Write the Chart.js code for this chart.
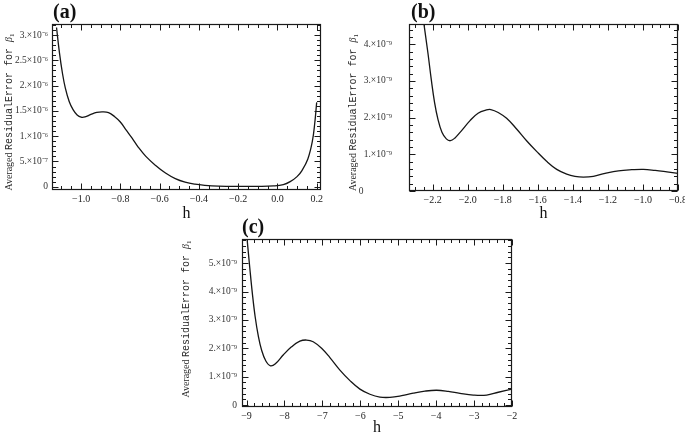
<!DOCTYPE html>
<html>
<head>
<meta charset="utf-8">
<script src="https://cdn.jsdelivr.net/npm/chart.js@4.4.0/dist/chart.umd.min.js"></script>
<style>
html,body{margin:0;padding:0;background:#fff;}
#wrap{position:relative;width:685px;height:441px;overflow:hidden;background:#fff;}
#wrap canvas{position:absolute;left:0;top:0;}
.pl{position:absolute;font:bold 20px "Liberation Serif",serif;line-height:20px;color:#111;white-space:nowrap;}
</style>
</head>
<body>
<div id="wrap">
  <canvas id="ca" width="685" height="441"></canvas>
  <canvas id="cb" width="685" height="441"></canvas>
  <canvas id="cc" width="685" height="441"></canvas>
  <div class="pl" id="la" style="left:53px;top:1px"></div>
  <div class="pl" id="lb" style="left:411px;top:1px"></div>
  <div class="pl" id="lc" style="left:242px;top:216px"></div>
</div>
<script>
// ---------- data ----------
const panelLabels = ['(a)', '(b)', '(c)'];
const xTitle = 'h';

// (a) h values and averaged residual error (units of 10^-6)
const hA = [-1.125,-1.11,-1.095,-1.08,-1.06,-1.04,-1.02,-1.0,-0.98,-0.95,-0.92,-0.89,-0.86,-0.83,-0.8,-0.77,-0.74,-0.71,-0.67,-0.62,-0.57,-0.52,-0.47,-0.42,-0.37,-0.3,-0.2,-0.1,-0.02,0.03,0.065,0.1,0.125,0.155,0.178,0.19,0.2];
const errA = [3.15,2.65,2.25,1.95,1.68,1.52,1.42,1.375,1.38,1.43,1.47,1.48,1.465,1.39,1.28,1.12,0.96,0.79,0.60,0.42,0.27,0.16,0.09,0.05,0.028,0.012,0.006,0.007,0.015,0.04,0.10,0.20,0.32,0.55,0.90,1.25,1.67];
const unitA = 1e-6;
const xTicksA = [-1.0,-0.8,-0.6,-0.4,-0.2,0.0,0.2];
const yTicksA = [0,0.5e-6,1e-6,1.5e-6,2e-6,2.5e-6,3e-6];

// (b) h values and averaged residual error (units of 10^-9)
const hB = [-2.26,-2.227,-2.208,-2.189,-2.17,-2.147,-2.122,-2.099,-2.074,-2.036,-1.988,-1.941,-1.893,-1.868,-1.826,-1.778,-1.721,-1.664,-1.607,-1.55,-1.492,-1.435,-1.388,-1.34,-1.283,-1.216,-1.14,-1.063,-0.997,-0.93,-0.863,-0.8];
const errB = [4.9,3.76,3.04,2.41,1.96,1.6,1.42,1.37,1.44,1.64,1.91,2.12,2.21,2.22,2.14,1.98,1.69,1.37,1.08,0.81,0.59,0.46,0.4,0.38,0.4,0.48,0.55,0.58,0.59,0.56,0.52,0.48];
const unitB = 1e-9;
const xTicksB = [-2.2,-2.0,-1.8,-1.6,-1.4,-1.2,-1.0,-0.8];
const yTicksB = [0,1e-9,2e-9,3e-9,4e-9];

// (c) h values and averaged residual error (units of 10^-9)
const hC = [-9.0,-8.913,-8.842,-8.773,-8.694,-8.604,-8.491,-8.367,-8.227,-8.034,-7.814,-7.594,-7.417,-7.243,-7.021,-6.802,-6.538,-6.274,-6.01,-5.747,-5.483,-5.219,-4.91,-4.604,-4.296,-3.987,-3.681,-3.372,-3.021,-2.668,-2.361,-2.0];
const errC = [6.05,4.81,3.87,3.11,2.46,1.94,1.55,1.38,1.47,1.76,2.05,2.25,2.29,2.23,2.0,1.67,1.23,0.86,0.56,0.38,0.28,0.27,0.33,0.42,0.49,0.52,0.48,0.41,0.35,0.35,0.45,0.56];
const unitC = 1e-9;
const xTicksC = [-9,-8,-7,-6,-5,-4,-3,-2];
const yTicksC = [0,1e-9,2e-9,3e-9,4e-9,5e-9];

// ---------- helpers ----------
const SUP = {'-':'\u207B','0':'\u2070','1':'\u00B9','2':'\u00B2','3':'\u00B3','4':'\u2074','5':'\u2075','6':'\u2076','7':'\u2077','8':'\u2078','9':'\u2079'};
function sci(v){
  if (Math.abs(v) < 1e-20) return '0';
  const e = Math.floor(Math.log10(Math.abs(v)) + 1e-9);
  const m = Math.round(v / Math.pow(10, e) * 100) / 100;
  const ms = Number.isInteger(m) ? m + '.' : String(m);
  return ms + '\u00D710' + String(e).split('').map(c => SUP[c]).join('');
}
function xfmt(dec){
  return v => {
    const s = Math.abs(v) < 1e-12 ? (0).toFixed(dec) : Math.abs(v).toFixed(dec);
    return (v < -1e-12 ? '\u2212' : '') + s;
  };
}

const SERIF = '"Liberation Serif", "Times New Roman", serif';
const MONO = '"Liberation Mono", "Courier New", monospace';

const frameTicks = {
  id: 'frameTicks',
  afterDatasetsDraw(chart, args, opts) {
    const {ctx, chartArea: a} = chart;
    const xs = chart.scales.x, ys = chart.scales.y;
    ctx.save();
    ctx.strokeStyle = opts.color;
    ctx.lineWidth = 1;
    function vals(scale, sub) {
      const t = scale.ticks.map(k => k.value);
      const step = (t[1] - t[0]) / sub;
      const eps = Math.abs(step) * 1e-6;
      const out = [];
      const start = Math.ceil((scale.min - t[0]) / step - 1e-6);
      for (let i = start; t[0] + i * step <= scale.max + eps; i++) {
        out.push({v: t[0] + i * step, major: ((i % sub) + sub) % sub === 0});
      }
      return out;
    }
    const L0 = Math.round(a.left) + 0.5, R0 = Math.round(a.right) - 0.5;
    const T0 = Math.round(a.top) + 0.5, B0 = Math.round(a.bottom) - 0.5;
    ctx.beginPath();
    vals(xs, opts.subX).forEach(o => {
      const p = Math.round(xs.getPixelForValue(o.v)) + 0.5;
      const L = o.major ? opts.major : opts.minor;
      ctx.moveTo(p, B0); ctx.lineTo(p, B0 - L);
      ctx.moveTo(p, T0); ctx.lineTo(p, T0 + L);
    });
    vals(ys, opts.subY).forEach(o => {
      const p = Math.round(ys.getPixelForValue(o.v)) + 0.5;
      const L = o.major ? opts.major : opts.minor;
      ctx.moveTo(L0, p); ctx.lineTo(L0 + L, p);
      ctx.moveTo(R0, p); ctx.lineTo(R0 - L, p);
    });
    ctx.stroke();
    ctx.lineWidth = 1.2;
    ctx.strokeRect(L0, T0, R0 - L0, B0 - T0);
    ctx.restore();
  }
};

const yTitlePlugin = {
  id: 'yTitleMixed',
  afterDraw(chart, args, o) {
    const ctx = chart.ctx;
    const segs = [
      {text: 'Averaged ', font: o.size + 'px ' + SERIF, dy: 0},
      {text: 'ResidualError for ', font: o.size + 'px ' + MONO, dy: 0},
      {text: '\u03B2', font: 'italic ' + o.size + 'px ' + SERIF, dy: 0},
      {text: '1', font: Math.round(o.size * 0.7) + 'px ' + SERIF, dy: 2}
    ];
    ctx.save();
    let total = 0;
    const w = segs.map(s => { ctx.font = s.font; const m = ctx.measureText(s.text).width; total += m; return m; });
    const a = chart.chartArea;
    ctx.translate(o.cx, (a.top + a.bottom) / 2 + o.dy);
    ctx.rotate(-Math.PI / 2);
    ctx.fillStyle = o.color;
    ctx.textBaseline = 'alphabetic';
    ctx.textAlign = 'left';
    let x = -total / 2;
    segs.forEach((s, i) => {
      ctx.font = s.font;
      ctx.fillText(s.text, x, o.size * 0.35 + s.dy);
      x += w[i];
    });
    ctx.restore();
  }
};

function makeChart(id, p) {
  const pts = p.h.map((h, i) => ({x: h, y: p.err[i] * p.unit}));
  return new Chart(document.getElementById(id), {
    type: 'line',
    data: { datasets: [{ data: pts, borderColor: '#151515', borderWidth: 1.3, pointRadius: 0,
                          fill: false, tension: 0.4 }] },
    options: {
      responsive: false, animation: false, devicePixelRatio: 1,
      events: [],
      layout: { padding: p.pad },
      plugins: {
        legend: {display: false}, tooltip: {enabled: false}, title: {display: false},
        frameTicks: {color: '#1a1a1a', major: 6, minor: 3.5, subX: p.subX, subY: p.subY},
        yTitleMixed: {cx: p.titleX, dy: p.titleDy, size: 10, color: '#2a2a2a'}
      },
      scales: {
        x: {
          type: 'linear', min: p.xr[0], max: p.xr[1],
          afterBuildTicks: s => { s.ticks = p.xt.map(v => ({value: v})); },
          afterFit: s => { s.height = p.hx; s.paddingLeft = 0; s.paddingRight = 0; },
          grid: {display: false, drawTicks: false}, border: {display: false},
          ticks: {padding: 3, autoSkip: false, maxRotation: 0, color: '#222',
                  font: {family: SERIF, size: 10}, callback: xfmt(p.xdec)},
          title: {display: true, text: xTitle, color: '#111', padding: 0,
                  font: {family: SERIF, size: 16}}
        },
        y: {
          type: 'linear', min: p.yr[0], max: p.yr[1],
          afterBuildTicks: s => { s.ticks = p.yt.map(v => ({value: v})); },
          afterFit: s => { s.width = p.wy; s.paddingTop = 0; s.paddingBottom = 0; },
          grid: {display: false, drawTicks: false}, border: {display: false},
          ticks: {padding: p.ypad, autoSkip: false, color: '#333',
                  font: {family: SERIF, size: 9.5}, callback: p.yfmt || sci}
        }
      }
    },
    plugins: [frameTicks, yTitlePlugin]
  });
}

// layout: frame boxes in page pixels
makeChart('ca', {
  h: hA, err: errA, unit: unitA, xt: xTicksA, yt: yTicksA, xdec: 1,
  xr: [-1.148, 0.222], yr: [-0.065e-6, 3.22e-6], subX: 4, subY: 5,
  wy: 45, hx: 33.6, ypad: 4,
  pad: {left: 7, top: 24, right: 685 - 321, bottom: 441 - 190 - 33.6},
  titleX: 8, titleDy: 5
});
makeChart('cb', {
  h: hB, err: errB, unit: unitB, xt: xTicksB, yt: yTicksB, xdec: 1,
  xr: [-2.335, -0.8], yr: [0, 4.55e-9], subX: 4, subY: 5,
  wy: 60, hx: 32.6, ypad: 17,
  pad: {left: 409 - 60, top: 24, right: 685 - 678, bottom: 441 - 191 - 32.6},
  titleX: 352.5, titleDy: 5,
  yfmt: v => Math.abs(v) < 1e-20 ? '0\u2003\u2003\u2003' : sci(v)
});
makeChart('cc', {
  h: hC, err: errC, unit: unitC, xt: xTicksC, yt: yTicksC, xdec: 0,
  xr: [-9.12, -2.0], yr: [-0.07e-9, 5.85e-9], subX: 5, subY: 5,
  wy: 60, hx: 30.5, ypad: 5,
  pad: {left: 242 - 60, top: 239, right: 685 - 512, bottom: 441 - 407 - 30.5},
  titleX: 185, titleDy: -4
});

document.getElementById('la').textContent = panelLabels[0];
document.getElementById('lb').textContent = panelLabels[1];
document.getElementById('lc').textContent = panelLabels[2];
</script>
</body>
</html>
